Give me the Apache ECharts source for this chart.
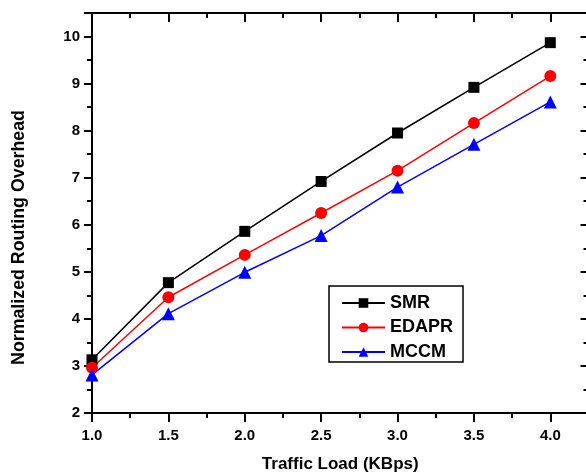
<!DOCTYPE html>
<html>
<head>
<meta charset="utf-8">
<script src="https://cdn.jsdelivr.net/npm/echarts@6/dist/echarts.min.js"></script>
<style>
html,body{margin:0;padding:0;background:#fff;}
#c{width:586px;height:474px;}
</style>
</head>
<body>
<div id="c"></div>
<script>
var loads = [1.0, 1.5, 2.0, 2.5, 3.0, 3.5, 4.0];
var smr   = [3.13, 4.77, 5.86, 6.92, 7.95, 8.92, 9.87];
var edapr = [2.96, 4.46, 5.36, 6.25, 7.15, 8.16, 9.16];
var mccm  = [2.81, 4.11, 4.99, 5.77, 6.80, 7.71, 8.61];
var seriesNames = ['SMR', 'EDAPR', 'MCCM'];
var xTitle = 'Traffic Load (KBps)';
var yTitle = 'Normalized Routing Overhead';

var FONT = '"Liberation Sans", Arial, sans-serif';
function pairs(vals){ return loads.map(function(x,i){ return [x, vals[i]]; }); }

var chart = echarts.init(document.getElementById('c'), null, {renderer:'canvas'});
var axLine = {show:true, lineStyle:{color:'#000', width:2}};
var tickStyle = {color:'#000', width:2};

chart.setOption({
  backgroundColor:'#fff',
  animation:false,
  grid:{left:92, top:13, right:-2.5, bottom:61, containLabel:false, outerBoundsMode:'none'},
  xAxis:[{
    type:'value', min:1, max:4.25, interval:0.5, position:'bottom',
    axisLine:axLine,
    axisTick:{show:true, inside:false, length:9, lineStyle:tickStyle},
    minorTick:{show:true, splitNumber:2, length:5, lineStyle:tickStyle},
    splitLine:{show:false},
    axisLabel:{margin:15, color:'#000', fontFamily:FONT, fontWeight:'bold', fontSize:15,
      formatter:function(v){ var k=v*2; return (Math.abs(k-Math.round(k))<1e-6 && v<=4.0001) ? v.toFixed(1) : ''; }},
    name:xTitle, nameLocation:'middle', nameGap:43,
    nameTextStyle:{color:'#000', fontFamily:FONT, fontWeight:'bold', fontSize:17}
  },{
    type:'value', min:1, max:4.25, interval:0.5, position:'top',
    axisLine:axLine,
    axisTick:{show:true, inside:true, length:9, lineStyle:tickStyle},
    minorTick:{show:true, splitNumber:2, length:5, lineStyle:tickStyle},
    splitLine:{show:false}, axisLabel:{show:false}
  }],
  yAxis:[{
    type:'value', min:2, max:10.5, interval:1, position:'left',
    axisLine:axLine,
    axisTick:{show:true, inside:false, length:8, lineStyle:tickStyle},
    minorTick:{show:true, splitNumber:2, length:5, lineStyle:tickStyle},
    splitLine:{show:false},
    axisLabel:{margin:12, color:'#000', fontFamily:FONT, fontWeight:'bold', fontSize:15,
      formatter:function(v){ return (Math.abs(v-Math.round(v))<1e-6 && v<=10.0001) ? String(Math.round(v)) : ''; }}
  },{
    type:'value', min:2, max:10.5, interval:1, position:'right',
    axisLine:axLine,
    axisTick:{show:true, inside:true, length:8, lineStyle:tickStyle},
    minorTick:{show:true, splitNumber:2, length:5, lineStyle:tickStyle},
    splitLine:{show:false}, axisLabel:{show:false}
  }],
  legend:{
    orient:'vertical', left:329, top:286,
    padding:[8,10,1,12], itemGap:6.5, itemWidth:43, itemHeight:12,
    borderColor:'#000', borderWidth:1.5, backgroundColor:'#fff',
    textStyle:{color:'#000', fontFamily:FONT, fontWeight:'bold', fontSize:18, lineHeight:17},
    data:seriesNames
  },
  graphic:[{
    type:'text', x:19, y:237.5, rotation:Math.PI/2,
    style:{text:yTitle, fill:'#000', font:'bold 17.8px ' + FONT, align:'center', verticalAlign:'middle'}
  }],
  series:[{
    name:seriesNames[0], type:'line', data:pairs(smr), xAxisIndex:0, yAxisIndex:0,
    symbol:'rect', symbolSize:11, color:'#000',
    lineStyle:{color:'#000', width:1.5}, itemStyle:{color:'#000'}, clip:false, z:3
  },{
    name:seriesNames[1], type:'line', data:pairs(edapr), xAxisIndex:0, yAxisIndex:0,
    symbol:'circle', symbolSize:12, color:'#ff0000',
    lineStyle:{color:'#ff0000', width:1.5}, itemStyle:{color:'#ff0000'}, clip:false, z:3
  },{
    name:seriesNames[2], type:'line', data:pairs(mccm), xAxisIndex:0, yAxisIndex:0,
    symbol:'triangle', symbolSize:13, color:'#0000ff',
    lineStyle:{color:'#0000ff', width:1.5}, itemStyle:{color:'#0000ff'}, clip:false, z:3
  }]
});
</script>
</body>
</html>
